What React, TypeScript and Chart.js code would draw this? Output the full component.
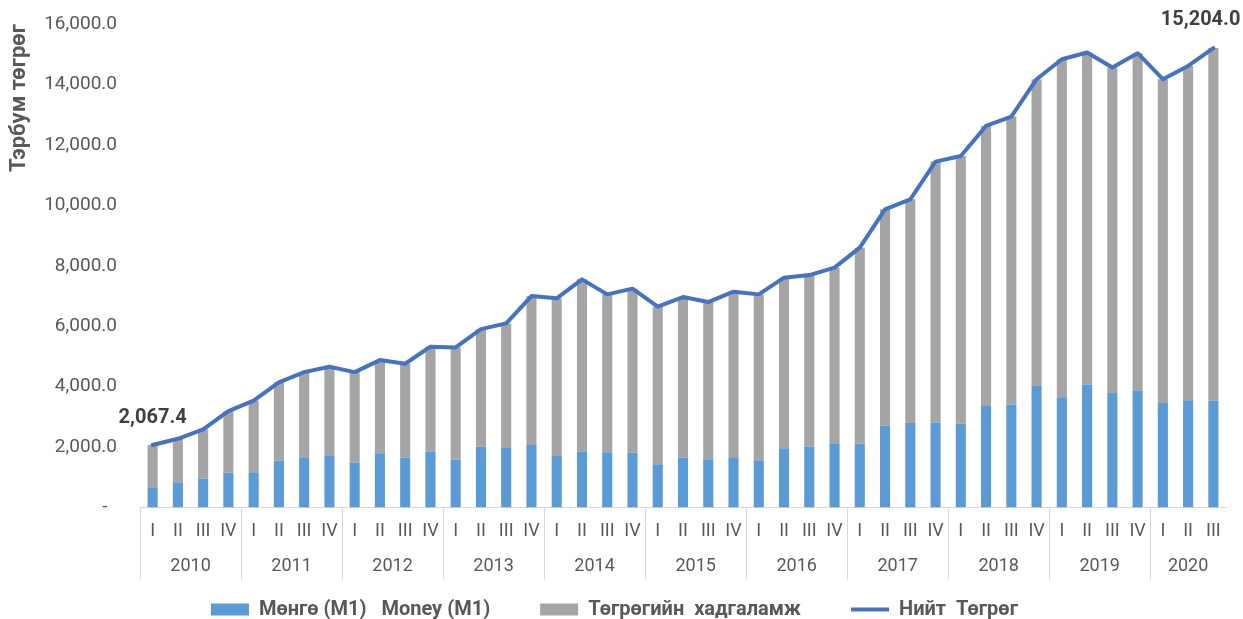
import React, { useEffect, useRef } from 'react';
import { Chart, registerables } from 'chart.js';

Chart.register(...registerables);

// ---- data ----
const years = ['2010', '2011', '2012', '2013', '2014', '2015', '2016', '2017', '2018', '2019', '2020'];
const quarterNames = ['I', 'II', 'III', 'IV'];
const quartersPerYear = [4, 4, 4, 4, 4, 4, 4, 4, 4, 4, 3];

// Мөнгө (M1), тэрбум төгрөг
const money = [
  672, 838, 950, 1149,
  1169, 1546, 1665, 1732,
  1480, 1799, 1645, 1844,
  1580, 2010, 1996, 2070,
  1732, 1854, 1831, 1812,
  1434, 1655, 1600, 1665,
  1566, 1964, 2010, 2130,
  2110, 2715, 2798, 2815,
  2772, 3355, 3410, 4017,
  3652, 4073, 3785, 3884,
  3454, 3553, 3543,
];

// Нийт төгрөг (M1 + төгрөгийн хадгаламж)
const total = [
  2067.4, 2275, 2583, 3189,
  3537, 4143, 4481, 4658,
  4481, 4878, 4758, 5321,
  5298, 5903, 6092, 6997,
  6921, 7550, 7053, 7242,
  6646, 6963, 6798, 7143,
  7053, 7606, 7692, 7937,
  8599, 9868, 10199, 11447,
  11633, 12627, 12938, 14173,
  14835, 15057, 14560, 15034,
  14173, 14613, 15204.0,
];

const seriesNames = ['Мөнгө (M1)   Money (M1)', 'Төгрөгийн  хадгаламж', 'Нийт  Төгрөг'];
const yAxisTitle = 'Тэрбум төгрөг';

// ---- derived tables ----
const quarterLabels: string[] = [];
const yearCenters: number[] = [];
const yearStarts: number[] = [];
quartersPerYear.forEach((n) => {
  const start = quarterLabels.length;
  yearStarts.push(start);
  yearCenters.push(start + (n - 1) / 2);
  for (let q = 0; q < n; q++) quarterLabels.push(quarterNames[q]);
});
const deposits = total.map((t, i) => Math.round((t - money[i]) * 10) / 10);

const fmt1 = (v: number) =>
  v.toLocaleString('en-US', { minimumFractionDigits: 1, maximumFractionDigits: 1 });

const FONT = 'Roboto';
const TXT = '#595959';

const endLabelsPlugin = {
  id: 'endLabels',
  afterDatasetsDraw(chart: any) {
    const meta = chart.getDatasetMeta(2);
    const pts = meta.data;
    if (!pts || !pts.length) return;
    const ctx = chart.ctx;
    ctx.save();
    ctx.font = `bold 20px ${FONT}`;
    ctx.fillStyle = '#404040';
    ctx.textBaseline = 'middle';
    const p0 = pts[0];
    ctx.textAlign = 'center';
    ctx.fillText(fmt1(total[0]), p0.x, p0.y - 27);
    const pl = pts[pts.length - 1];
    ctx.textAlign = 'right';
    ctx.fillText(fmt1(total[total.length - 1]), pl.x + 27, pl.y - 28);
    ctx.restore();
  },
};

const legendShiftPlugin = {
  id: 'legendShift',
  afterLayout(chart: any) {
    const lg = chart.legend;
    if (lg) lg.top -= 28;
  },
};

export default function App() {
  const canvasRef = useRef<HTMLCanvasElement | null>(null);

  useEffect(() => {
    const canvas = canvasRef.current;
    if (!canvas) return;
    const chart = new Chart(canvas, {
      type: 'bar',
      data: {
        labels: quarterLabels,
        datasets: [
          {
            type: 'bar',
            label: seriesNames[0],
            data: money,
            backgroundColor: '#5B9BD5',
            borderWidth: 0,
            stack: 'bars',
            order: 1,
            barPercentage: 0.4,
            categoryPercentage: 1,
          },
          {
            type: 'bar',
            label: seriesNames[1],
            data: deposits,
            backgroundColor: '#A5A5A5',
            borderWidth: 0,
            stack: 'bars',
            order: 1,
            barPercentage: 0.4,
            categoryPercentage: 1,
          },
          {
            type: 'line',
            label: seriesNames[2],
            data: total,
            borderColor: '#4472C4',
            backgroundColor: '#4472C4',
            borderWidth: 4,
            pointRadius: 0,
            tension: 0,
            borderJoinStyle: 'round',
            borderCapStyle: 'round',
            stack: 'line',
            order: 0,
          } as any,
        ],
      },
      options: {
        responsive: false,
        animation: false,
        layout: { padding: { left: 3, right: 17, top: 24, bottom: 0 } },
        plugins: {
          tooltip: { enabled: false },
          legend: {
            position: 'bottom',
            maxHeight: 41.5,
            labels: {
              usePointStyle: true,
              pointStyleWidth: 38,
              boxHeight: 12,
              padding: 50,
              color: TXT,
              font: { family: FONT, size: 20, weight: 'bold' },
              sort: (a: any, b: any) => a.datasetIndex - b.datasetIndex,
              generateLabels: (chart: any) => {
                const items = Chart.defaults.plugins.legend.labels.generateLabels(chart);
                return items.map((it: any) => {
                  if (it.datasetIndex === 2) {
                    return { ...it, pointStyle: 'line', lineWidth: 4, strokeStyle: '#4472C4' };
                  }
                  return { ...it, pointStyle: 'rect', lineWidth: 0 };
                });
              },
            },
          } as any,
        },
        scales: {
          x: {
            type: 'category',
            stacked: true,
            position: 'bottom',
            weight: 0,
            offset: true,
            border: { display: true, color: '#D9D9D9', width: 1 },
            grid: {
              offset: true,
              drawOnChartArea: false,
              drawTicks: true,
              tickLength: 72,
              lineWidth: 1,
              color: (ctx: any) =>
                yearStarts.includes(ctx.index) || ctx.index === quarterLabels.length
                  ? '#D9D9D9'
                  : 'rgba(0,0,0,0)',
            },
            ticks: {
              autoSkip: false,
              maxRotation: 0,
              minRotation: 0,
              padding: -59,
              color: TXT,
              font: { family: FONT, size: 18 },
            },
            afterFit: (s: any) => {
              s.height = 35;
            },
          },
          x2: {
            type: 'linear',
            position: 'bottom',
            weight: 1,
            min: -0.5,
            max: quarterLabels.length - 0.5,
            offset: false,
            border: { display: false },
            grid: { display: false, drawTicks: false },
            afterBuildTicks: (s: any) => {
              s.ticks = yearCenters.map((v) => ({ value: v }));
            },
            ticks: {
              autoSkip: false,
              maxRotation: 0,
              minRotation: 0,
              padding: 13,
              color: TXT,
              font: { family: FONT, size: 18 },
              callback: (_v: any, i: number) => years[i],
            },
            afterFit: (s: any) => {
              s.height = 35;
            },
          } as any,
          y: {
            stacked: true,
            min: 0,
            max: 16000,
            border: { display: false },
            grid: { display: false, drawTicks: false },
            ticks: {
              stepSize: 2000,
              padding: 23,
              color: TXT,
              font: { family: FONT, size: 19 },
              callback: (v: any) => (Number(v) === 0 ? '-  ' : fmt1(Number(v))),
            },
            title: {
              display: true,
              text: yAxisTitle,
              align: 'end',
              color: TXT,
              font: { family: FONT, size: 22, weight: 'bold' },
              padding: { top: 3, bottom: 4 },
            },
            afterFit: (s: any) => {
              s.width = 137;
              s.paddingTop = 0;
              s.paddingBottom = 0;
            },
          },
        },
      },
      plugins: [endLabelsPlugin, legendShiftPlugin],
    } as any);
    return () => chart.destroy();
  }, []);

  return (
    <div style={{ position: 'fixed', left: 0, top: 0, width: 1243, height: 619, background: '#fff' }}>
      <canvas ref={canvasRef} width={1243} height={619} style={{ display: 'block' }} />
    </div>
  );
}
